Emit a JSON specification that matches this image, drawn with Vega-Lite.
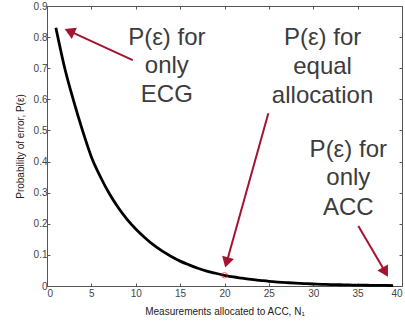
{
  "$schema": "https://vega.github.io/schema/vega-lite/v6.json",
  "autosize": {"type": "none"},
  "padding": {"left": 47, "top": 6, "right": 3, "bottom": 36},
  "width": 355,
  "height": 280,
  "background": "white",
  "config": {
    "view": {"stroke": null},
    "font": "Liberation Sans",
    "axis": {
      "domainColor": "#555555",
      "tickColor": "#555555",
      "labelColor": "#444444",
      "labelFont": "Liberation Sans",
      "labelFontSize": 10,
      "titleFont": "Liberation Sans",
      "titleFontSize": 10,
      "titleFontWeight": "normal",
      "titleColor": "#222222",
      "grid": false,
      "tickSize": -3
    }
  },
  "datasets": {
    "curve": [
      {"n": 1, "p": 0.83}, {"n": 2, "p": 0.70}, {"n": 3, "p": 0.595}, {"n": 4, "p": 0.50},
      {"n": 5, "p": 0.415}, {"n": 6, "p": 0.352}, {"n": 7, "p": 0.298}, {"n": 8, "p": 0.253},
      {"n": 9, "p": 0.215}, {"n": 10, "p": 0.183}, {"n": 11, "p": 0.156}, {"n": 12, "p": 0.132},
      {"n": 13, "p": 0.112}, {"n": 14, "p": 0.095}, {"n": 15, "p": 0.080}, {"n": 16, "p": 0.068},
      {"n": 17, "p": 0.057}, {"n": 18, "p": 0.048}, {"n": 19, "p": 0.041}, {"n": 20, "p": 0.0345},
      {"n": 21, "p": 0.029}, {"n": 22, "p": 0.025}, {"n": 23, "p": 0.021}, {"n": 24, "p": 0.018},
      {"n": 25, "p": 0.015}, {"n": 26, "p": 0.0127}, {"n": 27, "p": 0.0108}, {"n": 28, "p": 0.0091},
      {"n": 29, "p": 0.0077}, {"n": 30, "p": 0.0065}, {"n": 31, "p": 0.0055}, {"n": 32, "p": 0.0047},
      {"n": 33, "p": 0.004}, {"n": 34, "p": 0.0034}, {"n": 35, "p": 0.0028}, {"n": 36, "p": 0.0024},
      {"n": 37, "p": 0.002}, {"n": 38, "p": 0.0017}, {"n": 39, "p": 0.0015}
    ],
    "labels": [
      {"t": "P(ε) for", "n": 13.5, "p": 0.775},
      {"t": "only", "n": 13.5, "p": 0.684},
      {"t": "ECG", "n": 13.5, "p": 0.592},
      {"t": "P(ε) for", "n": 31.05, "p": 0.775},
      {"t": "equal", "n": 31.05, "p": 0.682},
      {"t": "allocation", "n": 31.05, "p": 0.588},
      {"t": "P(ε) for", "n": 33.95, "p": 0.416},
      {"t": "only", "n": 33.95, "p": 0.324},
      {"t": "ACC", "n": 33.95, "p": 0.229}
    ],
    "arrows": [
      {"n": 9.66, "p": 0.726, "n2": 2.54, "p2": 0.819, "angle": 294.5},
      {"n": 24.94, "p": 0.555, "n2": 20.24, "p2": 0.0755, "angle": 195.6},
      {"n": 35.08, "p": 0.193, "n2": 38.12, "p2": 0.0447, "angle": 149.7}
    ],
    "marker": [{"n": 20, "p": 0.0345}]
  },
  "layer": [
    {
      "data": {"name": "curve"},
      "mark": {"type": "line", "color": "black", "strokeWidth": 2.8, "interpolate": "monotone"},
      "encoding": {
        "x": {
          "field": "n", "type": "quantitative",
          "scale": {"domain": [0, 40], "nice": false, "zero": false},
          "axis": {
            "orient": "bottom",
            "values": [0, 5, 10, 15, 20, 25, 30, 35, 40],
            "title": "Measurements allocated to ACC, N₁",
            "labelPadding": 5,
            "titlePadding": 8
          }
        },
        "y": {
          "field": "p", "type": "quantitative",
          "scale": {"domain": [0, 0.9], "nice": false, "zero": false},
          "axis": {
            "orient": "left",
            "values": [0, 0.1, 0.2, 0.3, 0.4, 0.5, 0.6, 0.7, 0.8, 0.9],
            "labelExpr": "datum.value == 0 ? '0' : format(datum.value, '.1f')",
            "title": "Probability of error, P(ε)",
            "labelPadding": 3,
            "titlePadding": 8
          }
        }
      }
    },
    {
      "data": {"name": "curve"},
      "mark": {"type": "point", "opacity": 0},
      "encoding": {
        "x": {
          "field": "n", "type": "quantitative",
          "scale": {"domain": [0, 40], "nice": false, "zero": false},
          "axis": {"orient": "top", "values": [0, 5, 10, 15, 20, 25, 30, 35, 40], "labels": false, "title": null}
        },
        "y": {
          "field": "p", "type": "quantitative",
          "scale": {"domain": [0, 0.9], "nice": false, "zero": false},
          "axis": {"orient": "right", "values": [0, 0.1, 0.2, 0.3, 0.4, 0.5, 0.6, 0.7, 0.8, 0.9], "labels": false, "title": null}
        }
      }
    },
    {
      "data": {"name": "marker"},
      "mark": {"type": "point", "shape": "circle", "filled": false, "color": "#ff2020", "size": 30, "strokeWidth": 1},
      "encoding": {
        "x": {"field": "n", "type": "quantitative", "axis": null},
        "y": {"field": "p", "type": "quantitative", "axis": null}
      }
    },
    {
      "data": {"name": "arrows"},
      "mark": {"type": "rule", "color": "#A2142F", "strokeWidth": 2},
      "encoding": {
        "x": {"field": "n", "type": "quantitative", "axis": null},
        "y": {"field": "p", "type": "quantitative", "axis": null},
        "x2": {"field": "n2"},
        "y2": {"field": "p2"}
      }
    },
    {
      "data": {"name": "arrows"},
      "mark": {"type": "point", "shape": "triangle-up", "filled": true, "color": "#A2142F", "size": 150, "opacity": 1},
      "encoding": {
        "x": {"field": "n2", "type": "quantitative", "axis": null},
        "y": {"field": "p2", "type": "quantitative", "axis": null},
        "angle": {"field": "angle", "type": "quantitative", "scale": null}
      }
    },
    {
      "data": {"name": "labels"},
      "mark": {"type": "text", "font": "Liberation Sans", "fontSize": 24, "color": "#3c3c3c", "align": "center", "baseline": "alphabetic"},
      "encoding": {
        "x": {"field": "n", "type": "quantitative", "axis": null},
        "y": {"field": "p", "type": "quantitative", "axis": null},
        "text": {"field": "t"}
      }
    }
  ],
  "resolve": {"axis": {"x": "independent", "y": "independent"}}
}
